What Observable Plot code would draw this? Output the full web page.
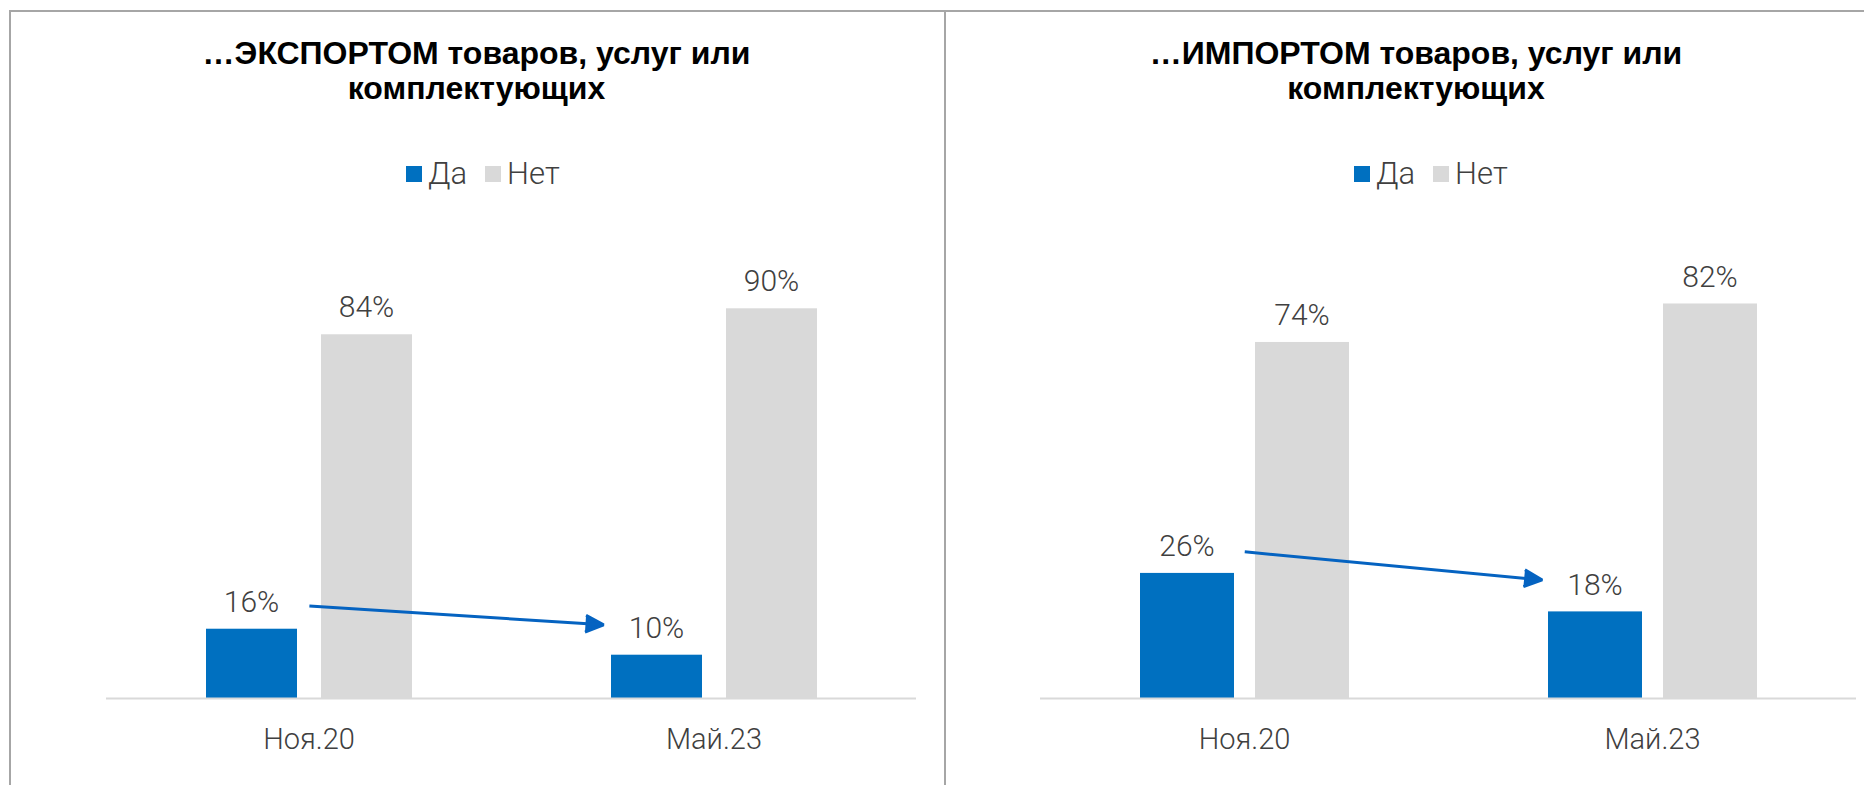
<!DOCTYPE html>
<html>
<head>
<meta charset="utf-8">
<script src="https://cdn.jsdelivr.net/npm/d3@7"></script>
<script src="https://cdn.jsdelivr.net/npm/@observablehq/plot@0.6"></script>
<style>
  html, body { margin: 0; padding: 0; background: #fff; overflow: hidden; width: 1864px; height: 785px; }
  .frame { position: absolute; left: 9px; top: 10px; width: 1900px; height: 800px; border: 2px solid #a6a6a6; box-sizing: border-box; }
  .divider { position: absolute; left: 944px; top: 10px; width: 2px; height: 800px; background: #a6a6a6; }
  .title { position: absolute; text-align: center; font-family: "Liberation Sans", Arial, sans-serif; font-weight: bold; font-size: 32px; line-height: 35px; color: #000; white-space: pre-line; }
  .legend { position: absolute; }
  .lg-swatches { font-family: Roboto, "Noto Sans", sans-serif !important; font-size: 31px !important; font-weight: 300; color: #404040; margin: 0 !important; }
  .lg-swatch > svg { margin-right: 6px !important; }
  .lg-swatches-wrap .lg-swatch { margin-right: 18px !important; }
  .chart { position: absolute; top: 200px; font-weight: 300; }
</style>
</head>
<body>
<div class="frame"></div>
<div class="divider"></div>
<div id="root"></div>
<script>
// ---- data ----
const periods = ["Ноя.20", "Май.23"];
const series = ["Да", "Нет"];
const exportYes = [16, 10];
const exportNo = [84, 90];
const importYes = [26, 18];
const importNo = [74, 82];
const titles = ["…ЭКСПОРТОМ товаров, услуг или\nкомплектующих", "…ИМПОРТОМ товаров, услуг или\nкомплектующих"];
const yMaxes = [100, 90];
const colors = ["#0070C0", "#D9D9D9"];

const root = document.getElementById("root");
const labelFont = 'Roboto, "Noto Sans", sans-serif';
const textColor = "#404040";

function panel(cfg) {
  const {yes, no, yMax, title, panelLeft, panelWidth, svgLeft, svgWidth, mLeft, mRight, legendLeft} = cfg;
  const rowsYes = periods.map((p, i) => ({period: p, series: series[0], value: yes[i]}));
  const rowsNo = periods.map((p, i) => ({period: p, series: series[1], value: no[i]}));
  const arrowRow = [{p1: periods[0], p2: periods[1], v1: yes[0], v2: yes[1]}];

  const t = document.createElement("div");
  t.className = "title";
  t.style.left = panelLeft + "px";
  t.style.width = panelWidth + "px";
  t.style.top = "36px";
  t.textContent = title;
  root.appendChild(t);

  const plot = Plot.plot({
    width: svgWidth,
    height: 585,
    marginTop: 65,
    marginBottom: 87,
    marginLeft: mLeft,
    marginRight: mRight,
    style: {fontFamily: labelFont, fontSize: "28px", color: textColor, background: "transparent"},
    x: {domain: periods, padding: 0, label: null},
    y: {domain: [0, yMax], axis: null},
    color: {domain: series, range: colors},
    marks: [
      Plot.barY(rowsYes, {x: "period", y: "value", fill: "series", insetLeft: 100, insetRight: 214}),
      Plot.barY(rowsNo, {x: "period", y: "value", fill: "series", insetLeft: 215, insetRight: 99}),
      Plot.ruleY([0], {stroke: "#D9D9D9", strokeWidth: 2}),
      Plot.text(rowsYes, {x: "period", y: "value", text: d => d.value + "%", dx: -57.5, dy: -27, lineAnchor: "middle", fontSize: 30, fill: textColor}),
      Plot.text(rowsNo, {x: "period", y: "value", text: d => d.value + "%", dx: 57.5, dy: -27, lineAnchor: "middle", fontSize: 30, fill: textColor}),
      Plot.arrow(arrowRow, {x1: "p1", x2: "p2", y1: "v1", y2: "v2", dx: -57.5, dy: -27, insetStart: 58, insetEnd: 53,
        stroke: "#0563C1", fill: "#0563C1", strokeWidth: 3, headLength: 10, headAngle: 50, strokeLinecap: "butt"}),
      Plot.axisX({tickSize: 0, tickPadding: 30, fontSize: 29, label: null})
    ]
  });
  plot.classList.add("chart");
  plot.style.left = svgLeft + "px";
  root.appendChild(plot);

  const lg = plot.legend("color", {className: "lg", swatchSize: 16});
  const wrap = document.createElement("div");
  wrap.className = "legend";
  wrap.style.left = legendLeft + "px";
  wrap.style.top = "155px";
  wrap.appendChild(lg);
  root.appendChild(wrap);
}

panel({yes: exportYes, no: exportNo, yMax: yMaxes[0], title: titles[0],
  panelLeft: 9, panelWidth: 935, svgLeft: 0, svgWidth: 945, mLeft: 106, mRight: 29, legendLeft: 406});
panel({yes: importYes, no: importNo, yMax: yMaxes[1], title: titles[1],
  panelLeft: 945, panelWidth: 942, svgLeft: 945, svgWidth: 919, mLeft: 95, mRight: 8, legendLeft: 1354});
</script>
</body>
</html>
